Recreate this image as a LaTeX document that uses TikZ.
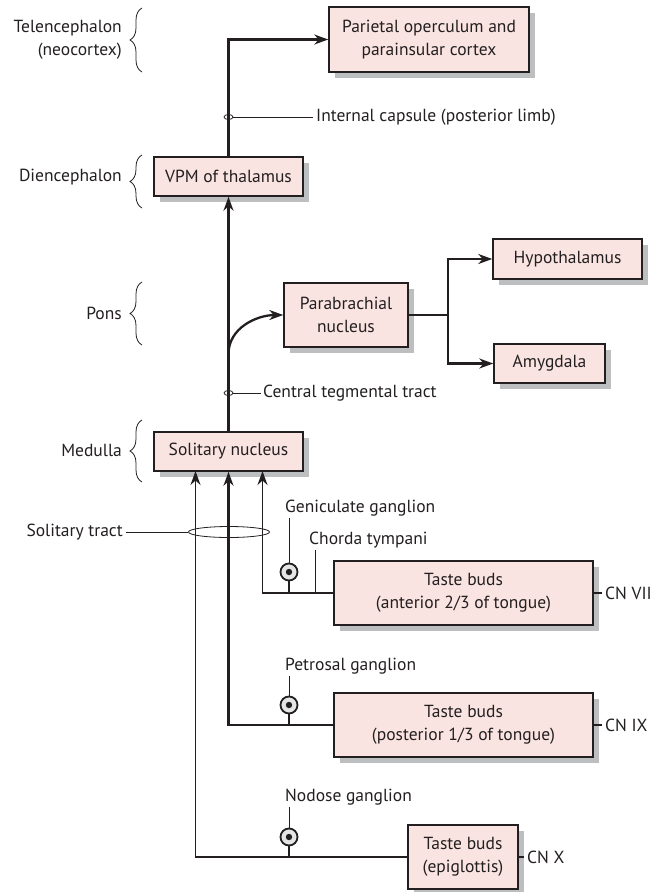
\documentclass[tikz,border=0pt]{standalone}
\usepackage{fontspec}
\setmainfont{PT Sans}
\usetikzlibrary{arrows.meta,shadows,decorations.pathreplacing,calc,shapes.geometric}
\definecolor{boxfill}{RGB}{250,228,225}
\definecolor{shade}{RGB}{188,190,192}
\definecolor{ink}{RGB}{35,31,32}
\definecolor{gfill}{RGB}{228,229,230}
\begin{document}
\begin{tikzpicture}[x=1pt,y=-1pt, font=\fontsize{17.5}{23}\selectfont, color=ink, text=ink,
 box/.style={draw=ink, line width=1.5pt, fill=boxfill, align=center, inner sep=0pt,
   drop shadow={shadow xshift=6pt, shadow yshift=-6pt, fill=shade, opacity=1}},
 lbl/.style={inner sep=0pt},
 mainln/.style={line width=2.3pt},
 aff/.style={line width=1.9pt},
 thinln/.style={line width=0.8pt},
 arr/.style={-{Stealth[length=14pt,width=10pt]}},
 bracelike/.style={decorate, decoration={brace, amplitude=12pt}, line width=0.8pt},
 gang/.style={circle, draw=ink, line width=1.8pt, fill=gfill, minimum size=17pt, inner sep=0pt},
 ring/.style={ellipse, draw=ink, line width=0.8pt, inner sep=0pt}]
\useasboundingbox (0,0) rectangle (661,892);

% boxes
\node[box, minimum width=200pt, minimum height=65pt] (par) at (429,39.5) {Parietal operculum and\\parainsular cortex};
\node[box, minimum width=149pt, minimum height=39pt] (vpm) at (228.5,176.5) {VPM of thalamus};
\node[box, minimum width=124pt, minimum height=64pt] (pb) at (346,315) {Parabrachial\\nucleus};
\node[box, minimum width=149pt, minimum height=40pt] (hyp) at (567.5,259) {Hypothalamus};
\node[box, minimum width=111pt, minimum height=39pt] (amy) at (549.5,363.5) {Amygdala};
\node[box, minimum width=149pt, minimum height=39pt] (sol) at (228.5,451.5) {Solitary nucleus};
\node[box, minimum width=259pt, minimum height=64pt] (tb1) at (463.5,593) {Taste buds\\(anterior 2/3 of tongue)};
\node[box, minimum width=259pt, minimum height=64pt] (tb2) at (463.5,725) {Taste buds\\(posterior 1/3 of tongue)};
\node[box, minimum width=110pt, minimum height=64pt] (tb3) at (463,857) {Taste buds\\(epiglottis)};

% left region labels and braces
\node[lbl, anchor=east, align=right] (tel) at (122,40) {Telencephalon\\(neocortex)};
\node[lbl, anchor=east] (dien) at (122,177) {Diencephalon};
\node[lbl, anchor=east] (pons) at (122,313) {Pons};
\node[lbl, anchor=east] (med) at (122,450) {Medulla};
\coordinate (b1a) at (142,72); \coordinate (b1b) at (142,8);
\coordinate (b2a) at (142,208); \coordinate (b2b) at (142,155);
\coordinate (b3a) at (142,345); \coordinate (b3b) at (142,282);
\coordinate (b4a) at (142,482); \coordinate (b4b) at (142,420);
\draw[bracelike] (b1a) -- (b1b);
\draw[bracelike] (b2a) -- (b2b);
\draw[bracelike] (b3a) -- (b3b);
\draw[bracelike] (b4a) -- (b4b);

% main ascending pathway
\draw[mainln, arr] (sol.north) -- (vpm.south);
\draw[mainln, arr] (vpm.north) |- (par.west);
\coordinate (split) at (228.5,354);
\draw[mainln, arr] (split) to[out=90, in=180] (pb.west);
\coordinate (pbr) at (448,315);
\draw[mainln] (pb.east) -- (pbr);
\draw[mainln, arr] (pbr) |- (hyp.west);
\draw[mainln, arr] (pbr) |- (amy.west);

% tract rings and labels
\node[ring, minimum width=9pt, minimum height=5pt] (icr) at (228.5,117) {};
\node[lbl, anchor=west] (icl) at (316,117) {Internal capsule (posterior limb)};
\draw[thinln] (icr.east) -- ([xshift=-3pt]icl.west);
\node[ring, minimum width=9pt, minimum height=5pt] (ctr) at (228.5,393) {};
\node[lbl, anchor=west] (ctl) at (263,393) {Central tegmental tract};
\draw[thinln] (ctr.east) -- ([xshift=-2pt]ctl.west);
\node[ring, minimum width=81pt, minimum height=11pt] (str) at (229,532) {};
\node[lbl, anchor=east] (stl) at (123,532) {Solitary tract};
\draw[thinln] (str.west) -- ([xshift=3pt]stl.east);

% afferents
\coordinate (s7) at (262.5,471);
\coordinate (s10) at (195.5,471);
\draw[aff, arr] (tb1.west) -| (s7);
\draw[mainln, arr] (tb2.west) -| (sol.south);
\draw[aff, arr] (tb3.west) -| (s10);

% ganglia
\node[gang] (g1) at (289,572) {};
\node[gang] (g2) at (289,705) {};
\node[gang] (g3) at (289,837) {};
\fill[ink] (g1) circle (3.2pt);
\fill[ink] (g2) circle (3.2pt);
\fill[ink] (g3) circle (3.2pt);
\draw[aff] (g1.south) -- (g1.south |- tb1.west);
\draw[aff] (g2.south) -- (g2.south |- tb2.west);
\draw[aff] (g3.south) -- (g3.south |- tb3.west);
\node[lbl, anchor=west] (gl1) at (285,508) {Geniculate ganglion};
\node[lbl, anchor=west] (gl2) at (285,666) {Petrosal ganglion};
\node[lbl, anchor=west] (gl3) at (285,797) {Nodose ganglion};
\draw[thinln] (g1.north) -- ($(g1.north |- gl1.south)+(0,2)$);
\draw[thinln] (g2.north) -- ($(g2.north |- gl2.south)+(0,2)$);
\draw[thinln] (g3.north) -- ($(g3.north |- gl3.south)+(0,2)$);

% chorda tympani
\coordinate (ct) at (315,593);
\node[lbl, anchor=west] (ctyl) at (309,540) {Chorda tympani};
\draw[thinln] (ct) -- ($(ct |- ctyl.south)+(0,2)$);

% cranial nerves
\node[lbl, anchor=west] (cn7) at (605,593) {CN VII};
\node[lbl, anchor=west] (cn9) at (605,725) {CN IX};
\node[lbl, anchor=west] (cn10) at (527,857) {CN X};
\draw[aff] (tb1.east) -- ([xshift=-3pt]cn7.west);
\draw[aff] (tb2.east) -- ([xshift=-3pt]cn9.west);
\draw[aff] (tb3.east) -- ([xshift=-3pt]cn10.west);
\end{tikzpicture}
\end{document}
